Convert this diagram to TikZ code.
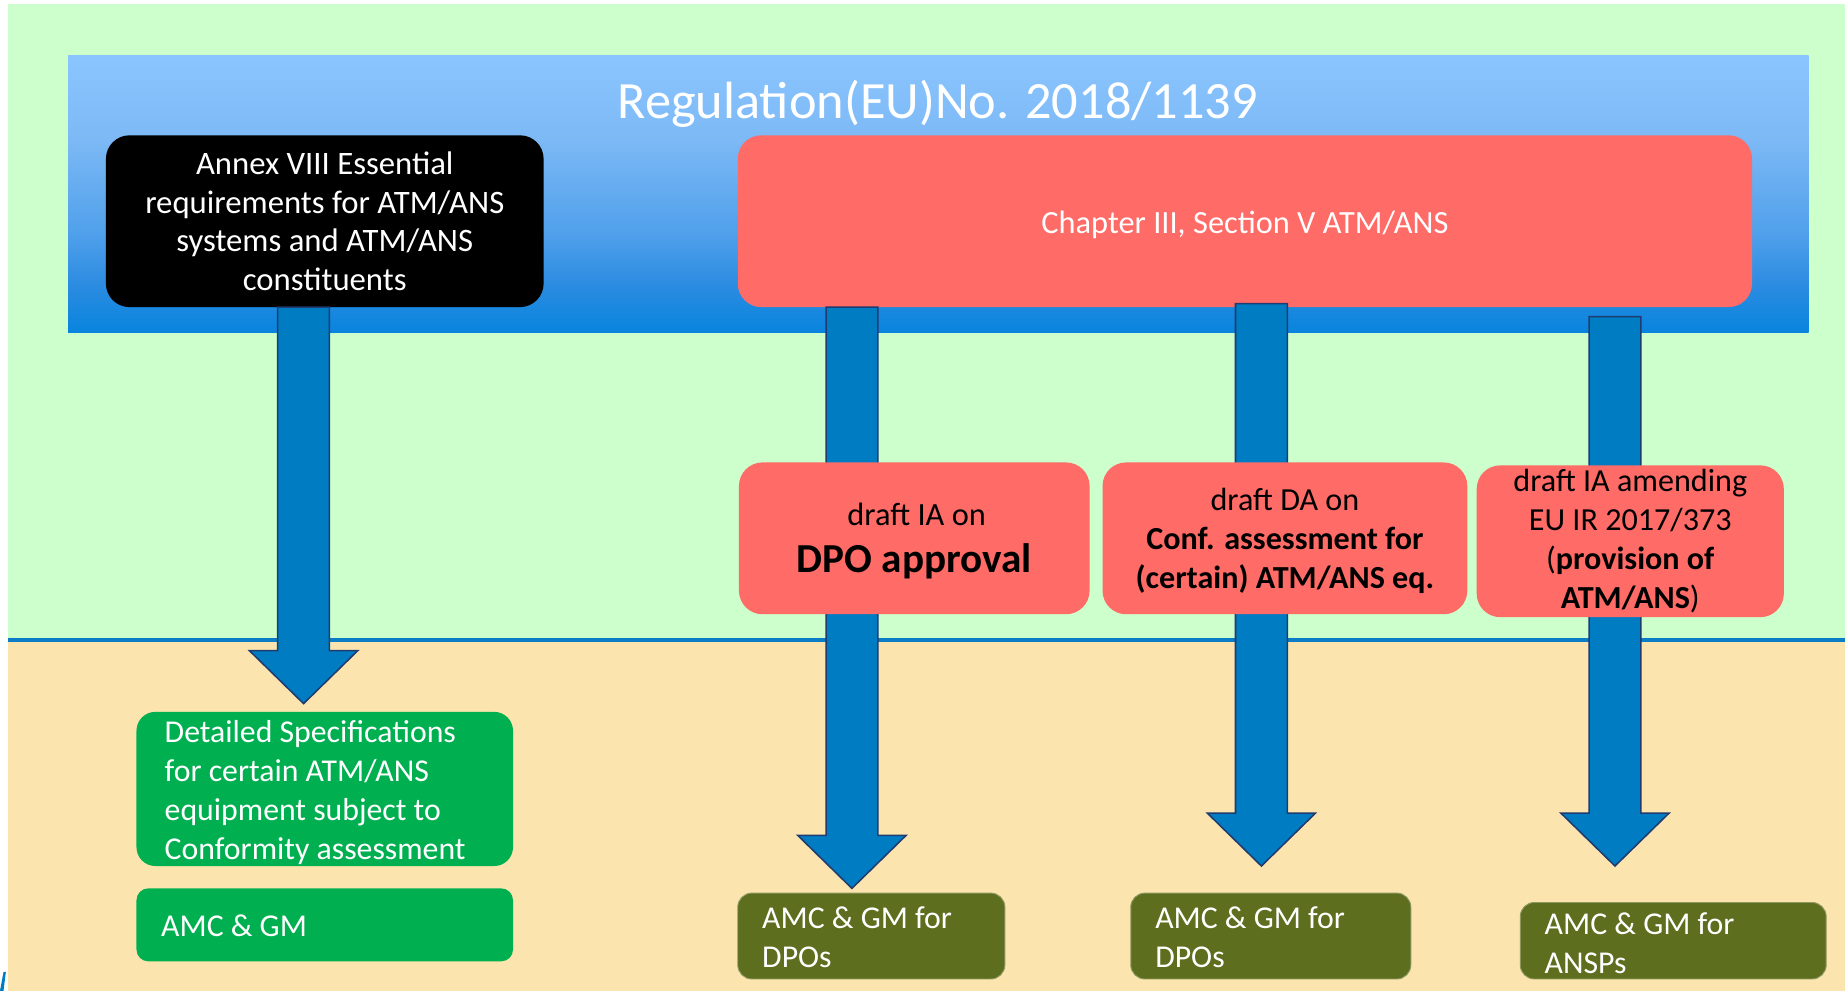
\documentclass[tikz,border=0pt]{standalone}
\usepackage{fontspec}
\setmainfont{Carlito}
\usetikzlibrary{calc}
\definecolor{greenbg}{HTML}{CCFFCC}
\definecolor{beigebg}{HTML}{FCE4AE}
\definecolor{sepblue}{HTML}{0A7DC6}
\definecolor{arrfill}{HTML}{007CC2}
\definecolor{arrline}{HTML}{1F3B70}
\definecolor{boxred}{HTML}{FF6B66}
\definecolor{boxgreen}{HTML}{00B050}
\definecolor{boxolive}{HTML}{5D6E1E}
\definecolor{bbot}{RGB}{8,132,222}
\definecolor{bm1}{RGB}{45,140,225}
\definecolor{bm2}{RGB}{80,160,235}
\definecolor{bm3}{RGB}{125,185,245}
\definecolor{btop}{RGB}{138,197,255}
\pgfdeclareverticalshading{bluegrad}{100bp}{color(0bp)=(bbot); color(25bp)=(bbot); color(34bp)=(bm1); color(43bp)=(bm2); color(60bp)=(bm3); color(75bp)=(btop); color(100bp)=(btop)}
\newcommand\blockarrow[2]{%
  \draw[arrowsty] let \p1=(#1), \p2=(#2) in
    (\x1-22pt,\y1) -- (\x1-22pt,\y2+45pt) -- (\x1-46pt,\y2+45pt) -- (\x2,\y2)
    -- (\x1+46pt,\y2+45pt) -- (\x1+22pt,\y2+45pt) -- (\x1+22pt,\y1) -- cycle;}
\begin{document}
\begin{tikzpicture}[x=1pt,y=-1pt,
  arrowsty/.style={fill=arrfill,draw=arrline,line width=1.3pt,line join=miter},
  boxbase/.style={rectangle,rounded corners=20pt,inner sep=0pt,anchor=center},
  redbox/.style={boxbase,fill=boxred,text=black,align=center},
  greenbox/.style={boxbase,fill=boxgreen,rounded corners=16pt},
  olivebox/.style={boxbase,fill=boxolive,rounded corners=12pt,draw=boxolive!70!white,line width=0.8pt},
  wtext/.style={text=white,align=left,anchor=west,inner sep=0pt,font=\fontsize{27}{33}\selectfont},
  btext/.style={text=black,align=center,inner sep=0pt,anchor=center}]
\useasboundingbox (0,0) rectangle (1568,842);
% backgrounds
\fill[white] (0,0) rectangle (1568,842);
\fill[greenbg] (7,3) rectangle (1568,544);
\fill[beigebg] (7,544) rectangle (1568,842);
\fill[sepblue] (7,542) rectangle (1568,546);
\fill[arrfill] (0,842) -- (3,826) -- (5,826) -- (3,842) -- cycle;
\shade[shading=bluegrad] (58,47) rectangle (1537,283);
% title
\node[text=white,font=\fontsize{44.5}{52}\selectfont,anchor=center] (title) at (797,88) {Regulation(EU)No. 2018/1139};
% top boxes
\node[boxbase,fill=black,text=white,align=center,minimum width=372pt,minimum height=146pt,
  font=\fontsize{27.8}{33}\selectfont] (annex) at (276,188)
  {Annex VIII Essential\\requirements for ATM/ANS\\systems and ATM/ANS\\constituents};
\node[redbox,minimum width=862pt,minimum height=146pt] (chap) at (1058,188) {};
\node[btext,text=white,font=\fontsize{27.5}{33}\selectfont] (chapt) at (1058,191) {Chapter III, Section V ATM/ANS};
% arrow anchors
\coordinate (s1) at (258,261); \coordinate (t1) at (258,598);
\coordinate (s2) at (724,261); \coordinate (t2) at (724,755);
\coordinate (s3) at (1072,258); \coordinate (t3) at (1072,736);
\coordinate (s4) at (1372.5,269); \coordinate (t4) at (1372.5,736);
\blockarrow{s1}{t1}
\blockarrow{s2}{t2}
\blockarrow{s3}{t3}
\blockarrow{s4}{t4}
% draft boxes
\node[redbox,minimum width=298pt,minimum height=129pt] (dpo) at (777,457.5) {};
\node[btext,font=\fontsize{27.5}{33}\selectfont] (dpo1) at (779,437) {draft IA on};
\node[btext,font=\fontsize{35}{40}\selectfont\bfseries] (dpo2) at (777,477) {DPO approval};
\node[redbox,minimum width=310pt,minimum height=129pt] (da) at (1092,457.5) {};
\node[btext,font=\fontsize{27.3}{33}\selectfont] (dat) at (1092,459.5)
  {draft DA on\\\textbf{Conf. assessment for}\\\textbf{(certain) ATM/ANS eq.}};
\node[redbox,minimum width=261pt,minimum height=129pt,font=\fontsize{27.3}{33}\selectfont] (ia) at (1385.5,460)
  {draft IA amending\\EU IR 2017/373\\(\textbf{provision of}\\\textbf{ATM/ANS})};
% bottom boxes
\node[greenbox,minimum width=320pt,minimum height=131pt] (spec) at (276,670.5) {};
\node[wtext] (spect) at ($(spec.west)+(24,3)$)
  {Detailed Specifications\\for certain ATM/ANS\\equipment subject to\\Conformity assessment};
\node[greenbox,minimum width=320pt,minimum height=62pt,rounded corners=10pt] (amc) at (276,786) {};
\node[wtext] (amct) at ($(amc.west)+(21,1)$) {AMC \& GM};
\node[olivebox,minimum width=227pt,minimum height=73pt] (o1) at (740.5,795.5) {};
\node[wtext] (o1t) at ($(o1.west)+(21,1)$) {AMC \& GM for\\DPOs};
\node[olivebox,minimum width=238pt,minimum height=73pt] (o2) at (1080,795.5) {};
\node[wtext] (o2t) at ($(o2.west)+(21,1)$) {AMC \& GM for\\DPOs};
\node[olivebox,minimum width=260pt,minimum height=65pt] (o3) at (1422,799.5) {};
\node[wtext] (o3t) at ($(o3.west)+(21,2)$) {AMC \& GM for\\ANSPs};
\end{tikzpicture}
\end{document}
